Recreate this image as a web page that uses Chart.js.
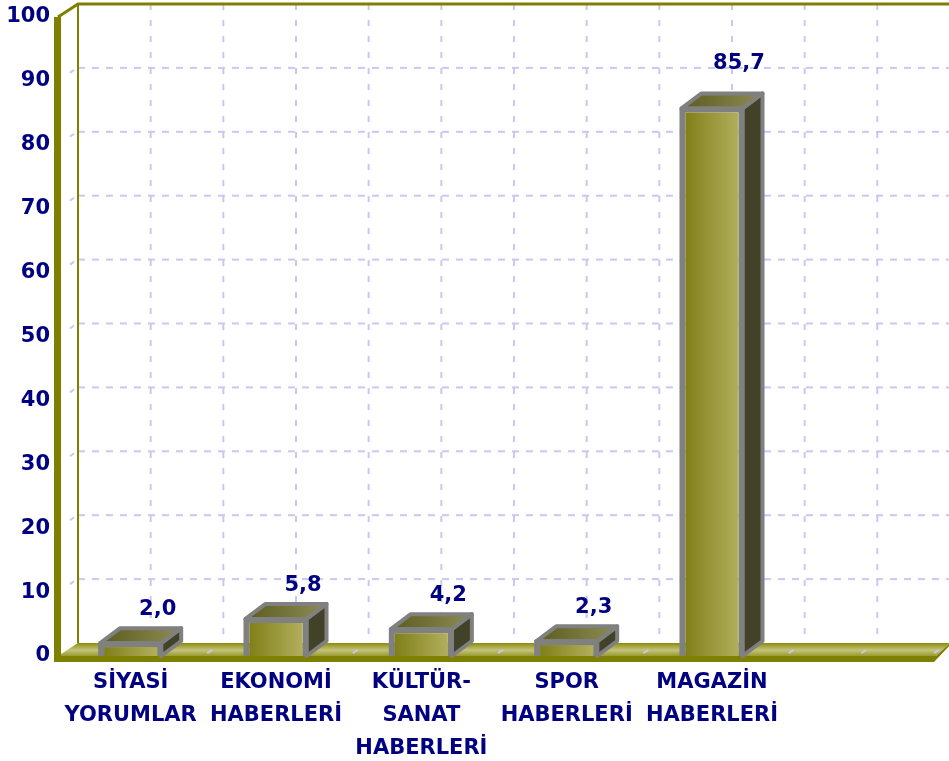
<!DOCTYPE html>
<html>
<head>
<meta charset="utf-8">
<script src="https://cdn.jsdelivr.net/npm/chart.js@4.4.1/dist/chart.umd.min.js"></script>
<style>
  html, body { margin: 0; padding: 0; background: #fff; }
  #wrap { width: 949px; height: 761px; }
</style>
</head>
<body>
<div id="wrap"><canvas id="bar3d" width="949" height="761"></canvas></div>
<script>
// categories (last slot is empty, the chart keeps room for it)
const categories = [
  ['SİYASİ', 'YORUMLAR'],
  ['EKONOMİ', 'HABERLERİ'],
  ['KÜLTÜR-', 'SANAT', 'HABERLERİ'],
  ['SPOR', 'HABERLERİ'],
  ['MAGAZİN', 'HABERLERİ'],
  ''
];
const percentages = [2.0, 5.8, 4.2, 2.3, 85.7, null];
const yTicks = [0, 10, 20, 30, 40, 50, 60, 70, 80, 90, 100];

const NAVY = '#000080';
const OLIVE = '#808000';
const GRID = '#c8c8f6';
const FONT = '"DejaVu Sans", Verdana, sans-serif';
const DX = 20, DY = -13;       // depth of the back wall
const BDX = 20, BDY = -15;     // depth of each bar

const fmt = v => v.toFixed(1).replace('.', ',');

// back wall, floor, side wall and their grid lines
const wallPlugin = {
  id: 'wall3d',
  beforeDatasetsDraw(chart) {
    const ctx = chart.ctx;
    const a = chart.chartArea;
    const ys = chart.scales.y;
    const base = ys.getPixelForValue(0);
    const top = ys.getPixelForValue(100);
    const right = a.right + DX + 30;

    ctx.save();
    // horizontal grid on back wall + a short dash on the side wall
    ctx.strokeStyle = GRID;
    ctx.lineWidth = 2;
    ctx.setLineDash([7, 7]);
    yTicks.forEach(v => {
      if (v === 0 || v === 100) return;
      const y = ys.getPixelForValue(v);
      ctx.beginPath();
      ctx.moveTo(a.left + DX, y + DY);
      ctx.lineTo(right, y + DY);
      ctx.stroke();
      ctx.beginPath();
      ctx.moveTo(a.left + DX - 8, y + DY + 5);
      ctx.lineTo(a.left + DX - 4, y + DY + 2);
      ctx.stroke();
    });
    // vertical grid at category centres and boundaries
    const n = categories.length;
    const step = (a.right - a.left) / n;
    ctx.setLineDash([6, 10]);
    for (let k = 1; k <= 2 * n + 1; k++) {
      const x = a.left + k * step / 2 + DX;
      ctx.beginPath();
      ctx.moveTo(x, top + DY);
      ctx.lineTo(x, base + DY);
      ctx.stroke();
    }
    ctx.setLineDash([]);

    // floor
    const fg = ctx.createLinearGradient(0, base + DY, 0, base);
    fg.addColorStop(0, '#8c8c10');
    fg.addColorStop(0.55, '#c4c47a');
    fg.addColorStop(1, '#9a9a30');
    ctx.fillStyle = fg;
    ctx.beginPath();
    ctx.moveTo(a.left, base);
    ctx.lineTo(a.left + DX, base + DY);
    ctx.lineTo(a.right + DX, base + DY);
    ctx.lineTo(a.right + 6, base);
    ctx.closePath();
    ctx.fill();

    // grid dashes running across the floor
    ctx.strokeStyle = GRID;
    ctx.lineWidth = 2;
    for (let k = 1; k <= 2 * n; k++) {
      const x = a.left + k * step / 2;
      ctx.beginPath();
      ctx.moveTo(x + 4, base - 3);
      ctx.lineTo(x + 9, base - 6);
      ctx.stroke();
    }

    // front edge of the floor
    ctx.fillStyle = OLIVE;
    ctx.beginPath();
    ctx.moveTo(a.left, base);
    ctx.lineTo(a.right + 6, base);
    ctx.lineTo(a.right + DX, base + DY);
    ctx.lineTo(a.right + DX + 2, base + DY);
    ctx.lineTo(a.right + 4, base + 6);
    ctx.lineTo(a.left, base + 6);
    ctx.closePath();
    ctx.fill();

    // back wall left edge and top edge
    ctx.strokeStyle = OLIVE;
    ctx.lineWidth = 2;
    ctx.beginPath();
    ctx.moveTo(a.left + DX, base + DY);
    ctx.lineTo(a.left + DX, top + DY);
    ctx.stroke();
    ctx.lineWidth = 3;
    ctx.beginPath();
    ctx.moveTo(a.left, top);
    ctx.lineTo(a.left + DX, top + DY);
    ctx.lineTo(chart.width + 5, top + DY);
    ctx.stroke();

    // thick front axis
    ctx.fillStyle = OLIVE;
    ctx.fillRect(a.left - 4, top, 7, base - top + 6);
    ctx.restore();
  },
  afterDatasetsDraw(chart) {
    const ctx = chart.ctx;
    const meta = chart.getDatasetMeta(0);
    ctx.save();
    meta.data.forEach((bar, i) => {
      const v = percentages[i];
      if (v == null) return;
      const l = bar.x - bar.width / 2, r = bar.x + bar.width / 2;
      const y = bar.y, b = bar.base;

      ctx.lineJoin = 'round';
      ctx.lineWidth = 4;
      ctx.strokeStyle = '#808080';

      // side face
      ctx.fillStyle = '#424228';
      ctx.beginPath();
      ctx.moveTo(r, y);
      ctx.lineTo(r + BDX, y + BDY);
      ctx.lineTo(r + BDX, b + BDY);
      ctx.lineTo(r, b);
      ctx.closePath();
      ctx.fill();
      ctx.stroke();

      // top face
      const tg = ctx.createLinearGradient(l, 0, r + BDX, 0);
      tg.addColorStop(0, '#5c5c1e');
      tg.addColorStop(1, '#8c8c56');
      ctx.fillStyle = tg;
      ctx.beginPath();
      ctx.moveTo(l, y);
      ctx.lineTo(l + BDX, y + BDY);
      ctx.lineTo(r + BDX, y + BDY);
      ctx.lineTo(r, y);
      ctx.closePath();
      ctx.fill();
      ctx.stroke();

      // redraw front outline so it sits over the faces
      ctx.beginPath();
      ctx.moveTo(l, b);
      ctx.lineTo(l, y);
      ctx.lineTo(r, y);
      ctx.lineTo(r, b);
      ctx.stroke();

      // value label, lifted a little more on tall bars
      ctx.fillStyle = NAVY;
      ctx.font = 'bold 21px ' + FONT;
      ctx.textAlign = 'center';
      ctx.textBaseline = 'middle';
      ctx.fillText(fmt(v), bar.x + 27, y - 33 - (b - y) * 0.022);
    });
    ctx.restore();
  }
};

// front face: dark olive on the left, light on the right
function frontFill(context) {
  const ch = context.chart;
  const xs = ch.scales && ch.scales.x;
  if (!xs || !ch.chartArea) return '#9a9a3a';
  const cx = xs.getPixelForValue(context.dataIndex);
  const w = (ch.chartArea.right - ch.chartArea.left) / categories.length * 0.42;
  if (!Number.isFinite(cx) || !Number.isFinite(w)) return '#9a9a3a';
  const g = ch.ctx.createLinearGradient(cx - w / 2, 0, cx + w / 2, 0);
  g.addColorStop(0, '#7c7c14');
  g.addColorStop(1, '#b6b262');
  return g;
}

new Chart(document.getElementById('bar3d'), {
  type: 'bar',
  data: {
    labels: categories,
    datasets: [{
      data: percentages,
      backgroundColor: frontFill,
      borderColor: '#808080',
      borderWidth: 4,
      borderSkipped: 'bottom',
      barPercentage: 0.42,
      categoryPercentage: 1
    }]
  },
  options: {
    responsive: false,
    animation: false,
    devicePixelRatio: 1,
    layout: { padding: { top: 17, right: 19, left: 0, bottom: 0 } },
    plugins: {
      legend: { display: false },
      tooltip: { enabled: false }
    },
    scales: {
      x: {
        grid: { display: false },
        border: { display: false },
        ticks: {
          color: NAVY,
          font: { family: FONT, size: 21, weight: 'bold', lineHeight: 1.57 },
          maxRotation: 0,
          autoSkip: false,
          padding: 2
        },
        afterFit(scale) { scale.height = 105; }
      },
      y: {
        min: 0,
        max: 100,
        grid: { display: false },
        border: { display: false },
        ticks: {
          stepSize: 10,
          color: NAVY,
          font: { family: FONT, size: 21, weight: 'bold' },
          padding: 0
        },
        afterFit(scale) { scale.width = 58; }
      }
    }
  },
  plugins: [wallPlugin]
});
</script>
</body>
</html>
